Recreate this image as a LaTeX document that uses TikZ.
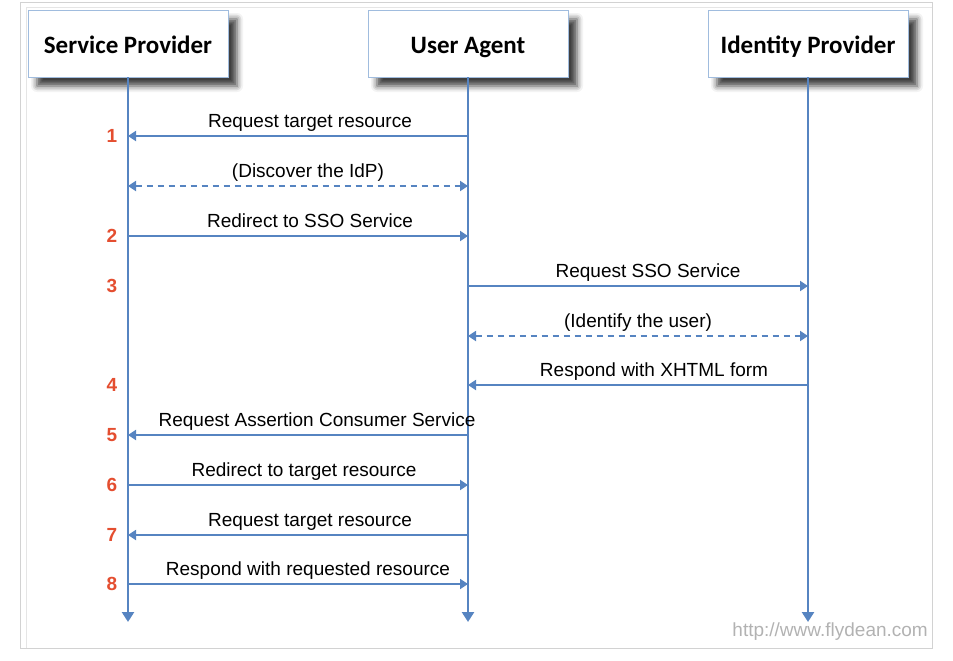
\documentclass[tikz,border=0pt]{standalone}
\usepackage{fontspec}
\setmainfont{Liberation Sans}
\newfontfamily\hdfont{Carlito}
\usetikzlibrary{arrows.meta,shadows.blur}

\definecolor{lineblue}{RGB}{86,132,193}
\definecolor{stepred}{RGB}{228,78,48}
\definecolor{boxedge}{RGB}{160,188,222}

\begin{document}
\begin{tikzpicture}[x=1pt,y=-1pt,>={Triangle[length=8pt,width=10pt]},
  actor/.style={draw=boxedge,fill=white,minimum width=200pt,minimum height=67pt,
    text height=21pt,text depth=0pt,font=\hdfont\bfseries\fontsize{25}{29}\selectfont,
    blur shadow={shadow xshift=9pt,shadow yshift=-9pt,shadow blur radius=6pt,shadow opacity=75}},
  life/.style={lineblue,line width=2.8pt,-{Triangle[length=10pt,width=12pt]}},
  msg/.style={lineblue,line width=1.8pt},
  fwd/.style={->},
  both/.style={<->,dash pattern=on 6pt off 5pt},
  lbl/.style={anchor=base,yshift=9pt,inner sep=0pt,text=black,
    font=\fontsize{19}{22}\selectfont},
  num/.style={text=stepred,font=\bfseries\fontsize{19}{22}\selectfont,inner sep=0pt}]
  \useasboundingbox (0,0) rectangle (953,661);
  % frame
  \draw[gray!35,line width=1pt] (20,3) rectangle (932,648);
  \draw[gray!20,line width=1pt] (26,648) -- (26,8) -- (932,8);

  % actors and lifelines
  \node[actor] (sp) at (128,43.5) {Service Provider};
  \node[actor] (ua) at (468,43.5) {User Agent};
  \node[actor] (idp) at (808,43.5) {Identity Provider};
  \coordinate (bot) at (0,622);
  \foreach \a in {sp,ua,idp} {
    \draw[life] (\a.south) -- (\a |- bot);
  }

  % messages
  \foreach \n/\a/\b/\y/\st/\dx/\txt in {
      1/ua/sp/136/fwd/12/Request target resource,
      d/sp/ua/186/both/10/(Discover the IdP),
      2/sp/ua/236/fwd/12/Redirect to SSO Service,
      3/ua/idp/286/fwd/10/Request SSO Service,
      u/ua/idp/336/both/0/(Identify the user),
      4/idp/ua/385/fwd/16/Respond with XHTML form,
      5/ua/sp/435/fwd/19/Request Assertion Consumer Service,
      6/sp/ua/485/fwd/6/Redirect to target resource,
      7/ua/sp/535/fwd/12/Request target resource,
      8/sp/ua/584/fwd/10/Respond with requested resource} {
    \coordinate (r\n) at (0,\y);
    \draw[msg,\st] (\a |- r\n) -- (\b |- r\n) node[lbl,pos=0.5,xshift=\dx pt] (m\n) {\txt};
  }

  % step numbers
  \foreach \k/\y in {1/136,2/236,3/286,4/385,5/435,6/485,7/535,8/584} {
    \node[num] (n\k) at (112,\y) {\k};
  }

  \node[anchor=east,text=gray!60,font=\fontsize{19}{22}\selectfont,inner sep=0pt] (wm) at (928,632) {http://www.flydean.com};
\end{tikzpicture}
\end{document}
